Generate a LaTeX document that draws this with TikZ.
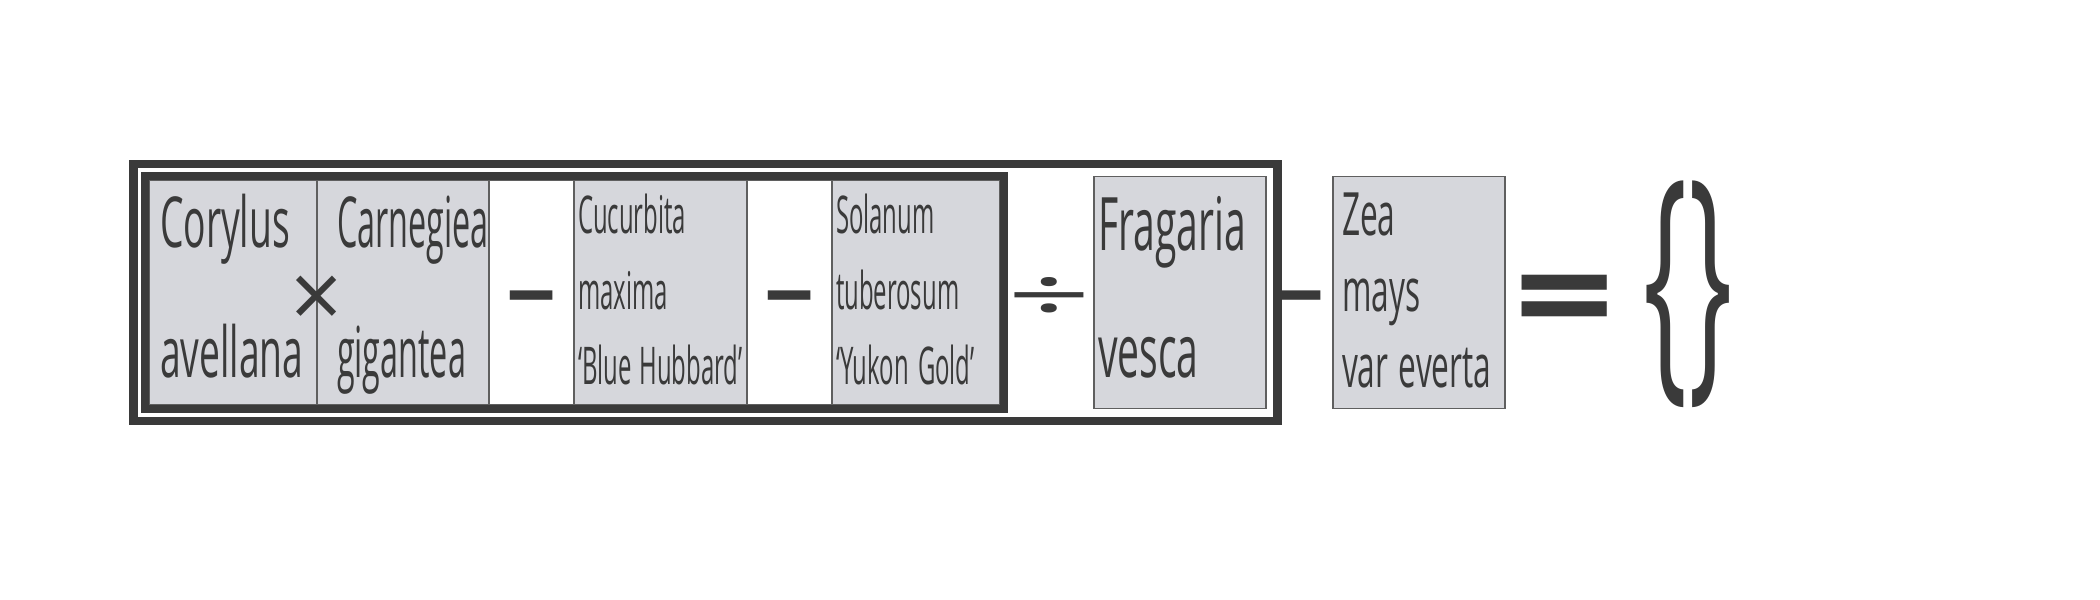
\documentclass[tikz,border=0pt]{standalone}
\usepackage{fontspec}
\setmainfont{Open Sans}
\newfontfamily\narrowfont[FakeStretch=0.53]{Open Sans}
\newfontfamily\slimfont[FakeStretch=0.46]{Open Sans}
\newfontfamily\bracefont[FakeStretch=0.45]{Open Sans}
\newfontfamily\wideopfont[FakeStretch=1.9]{Open Sans}
\newfontfamily\eqfont[FakeStretch=1.25]{Open Sans}
\usetikzlibrary{positioning, fit, calc}
\definecolor{ink}{HTML}{3A3A3A}
\definecolor{cellgrey}{HTML}{D6D7DC}
\definecolor{cellline}{HTML}{5F5F5F}

\begin{document}
\begin{tikzpicture}[x=1cm, y=1cm, every node/.style={text=ink}]
\tikzset{
  cell/.style={draw=cellline, line width=0.5pt, fill=cellgrey, minimum height=2.25cm, inner ysep=0pt, inner xsep=0.04cm, outer sep=0pt, align=left},
  gapcell/.style={draw=cellline, line width=0.5pt, fill=white, minimum width=0.85cm, minimum height=2.25cm, inner sep=0pt, outer sep=0pt},
  bigname/.style={font=\narrowfont\fontsize{20}{37}\selectfont, text height=19pt, text depth=44.6pt},
  smallname/.style={font=\slimfont\fontsize{14.8}{21.6}\selectfont, text height=14pt, text depth=47.8pt},
  frame/.style={draw=ink, line width=2.4pt, outer sep=0pt},
  op/.style={inner sep=0pt},
}
\useasboundingbox (0,0) rectangle (21,6);
% cells of the inner bracket
\node[cell, bigname, minimum width=1.68cm, text width=1.46cm, inner xsep=0.11cm, anchor=west] (corylus) at (1.49,3.075) {Corylus\\avellana};
\node[cell, bigname, font=\slimfont\fontsize{20}{37}\selectfont, minimum width=1.72cm, text width=1.32cm, inner xsep=0.20cm, right=0pt of corylus] (carnegiea) {Carnegiea\\gigantea};
\node[gapcell, right=0pt of carnegiea] (gapA) {};
\node[cell, smallname, minimum width=1.73cm, text width=1.65cm, right=0pt of gapA] (cucurbita) {Cucurbita\\maxima\\\mbox{‘Blue\hspace{2.2pt}Hubbard’}};
\node[gapcell, right=0pt of cucurbita] (gapB) {};
\node[cell, smallname, minimum width=1.68cm, text width=1.60cm, right=0pt of gapB] (solanum) {Solanum\\tuberosum\\\mbox{‘Yukon\hspace{2.6pt}Gold’}};
% brackets
\node[frame, fit=(corylus)(solanum), inner sep=0.04cm] (inner) {};
\node[cell, bigname, font=\narrowfont\fontsize{21}{36}\selectfont, minimum width=1.72cm, minimum height=2.32cm, text width=1.64cm, text height=20pt, text depth=43.8pt, right=0.94cm of solanum] (fragaria) {Fragaria\\vesca};
\node[frame, fit=(inner)(fragaria), inner xsep=0.115cm, inner ysep=0.12cm] (outer) {};
\node[cell, smallname, font=\narrowfont\fontsize{17}{21.6}\selectfont, minimum width=1.72cm, minimum height=2.32cm, text width=1.54cm, inner xsep=0.09cm, text height=14pt, text depth=46.4pt, right=0.67cm of fragaria] (zea) {Zea\\mays\\\mbox{var\hspace{3pt}everta}};
% operators
\node[op, font=\fontsize{26}{26}\selectfont, yshift=-0.10cm] (times) at (corylus.east) {×};
\node[op, font=\bfseries\fontsize{25}{25}\selectfont, yshift=-0.16cm] (minusA) at (gapA) {−};
\node[op, font=\bfseries\fontsize{25}{25}\selectfont, yshift=-0.16cm] (minusB) at (gapB) {−};
\node[op, font=\wideopfont\fontsize{22}{22}\selectfont, yshift=-0.07cm] (divide) at ($(inner.east)!0.5!(fragaria.west)$) {÷};
\node[op, font=\bfseries\fontsize{25}{25}\selectfont, yshift=-0.16cm] (minusC) at ($(fragaria.east)!0.5!(zea.west)$) {−};
\node[op, font=\eqfont\bfseries\fontsize{40}{40}\selectfont] (equals) at (15.65,2.90) {=};
\node[op, font=\bracefont\fontsize{74}{74}\selectfont] (braces) at (16.88,3.055) {\{\}};
\end{tikzpicture}
\end{document}
